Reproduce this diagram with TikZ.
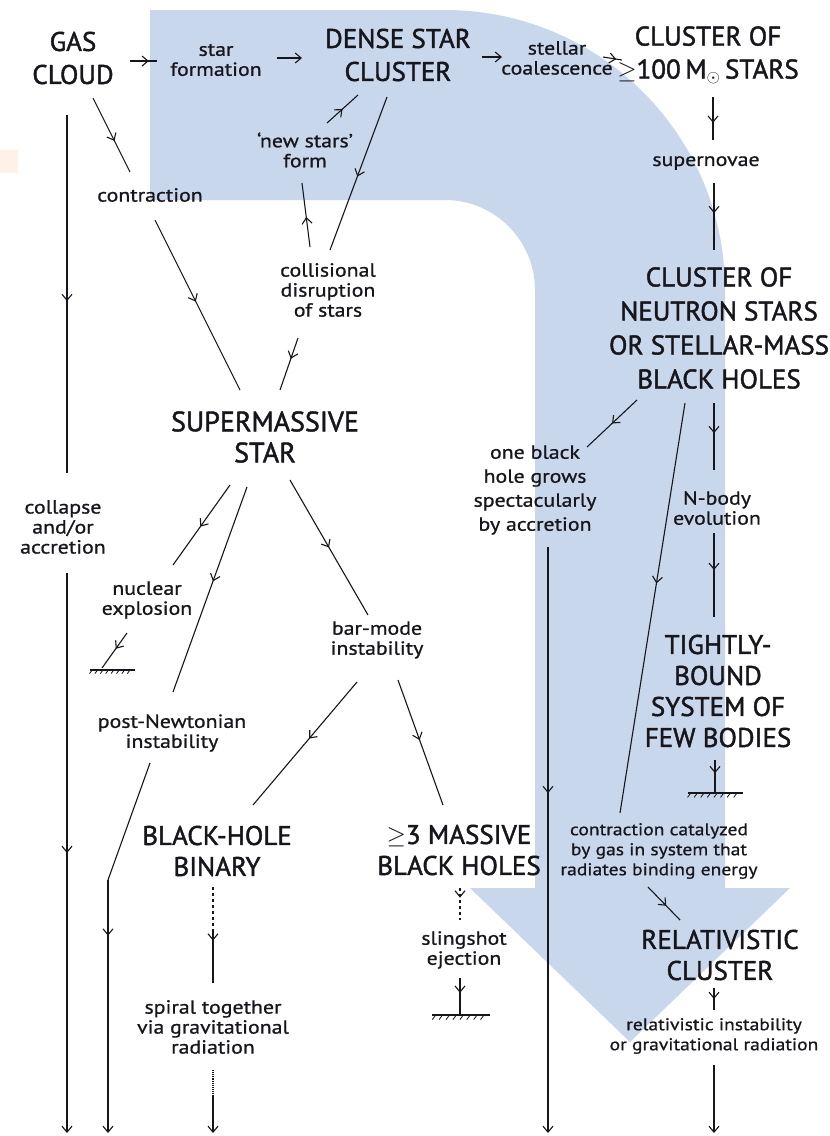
\documentclass[tikz,border=0pt]{standalone}
\usepackage{fontspec}
\setmainfont{PT Sans}
\newfontfamily\bigfont[FakeBold=1.6]{PT Sans}
\newfontfamily\labfont[FakeStretch=1.15,FakeBold=0.8]{PT Sans}
\usetikzlibrary{arrows.meta,decorations.markings}
\definecolor{bandblue}{RGB}{201,215,236}
\definecolor{ink}{RGB}{22,22,28}
\definecolor{faintorange}{RGB}{253,241,232}
\begin{document}
\begin{tikzpicture}[x=1pt,y=-1pt,
  big/.style={font=\bigfont\fontsize{27}{33}\selectfont, text=ink, align=center, inner sep=0pt},
  lab/.style={font=\labfont\fontsize{19}{20}\selectfont, text=ink, align=center, inner sep=0pt},
  smalllab/.style={font=\labfont\fontsize{17}{20}\selectfont, text=ink, align=center, inner sep=0pt},
  conn/.style={draw=ink, line width=1.1pt},
  endtip/.style={-{Straight Barb[length=6pt,width=10pt]}},
  marr/.style={postaction={decorate},decoration={markings,mark=at position #1 with {\arrow{Straight Barb[length=6pt,width=10pt]}}}},
  marr/.default=0.5,
  gnd/.pic={\draw[ink, line width=1.1pt] (-25,0) -- (25,0);
    \foreach \i in {-22,-16,...,22} \draw[ink, line width=0.8pt] (\i,0) -- (\i-3,4);}
]
\useasboundingbox (0,0) rectangle (830,1136);
\fill[white] (0,0) rectangle (830,1136);
\fill[faintorange] (0,150) rectangle (18,173);
% big blue arrow
\fill[bandblue] (150,10) -- (445,10) arc[start angle=-90, end angle=0, radius=280]
  -- (725,888) -- (790,888) -- (630,1042) -- (470,888) -- (535,888) -- (535,290)
  arc[start angle=0, end angle=-90, radius=90] -- (150,200) -- cycle;

% nodes
\node[big] (gas) at (73,58) {GAS\\CLOUD};
\node[lab] (sf) at (216,60) {star\\formation};
\node[big] (dsc) at (398,55) {DENSE STAR\\CLUSTER};
\node[lab] (sc) at (557,58) {stellar\\coalescence};
\node[big] (c100) at (708,55) {CLUSTER OF\\$\geq$100\,M$_\odot$\,STARS};
\node[lab] (sn) at (706,163) {supernovae};
\node[lab] (con) at (150,195) {contraction};
\node[lab] (nsf) at (305,150) {‘new stars’\\form};
\node[lab] (cds) at (328,290) {collisional\\disruption\\of stars};
\node[big, font=\bigfont\fontsize{28}{31}\selectfont] (sms) at (265,437) {SUPERMASSIVE\\STAR};
\node[lab] (caa) at (63,527) {collapse\\and/or\\accretion};
\node[lab] (nuc) at (147,600) {nuclear\\explosion};
\node[lab] (bmi) at (377,640) {bar-mode\\instability};
\node[lab] (pni) at (172,733) {post-Newtonian\\instability};
\node[big, font=\bigfont\fontsize{27}{31}\selectfont] (bhb) at (217,851) {BLACK-HOLE\\BINARY};
\node[big, font=\bigfont\fontsize{27}{31}\selectfont] (mbh) at (459,850) {$\geq$3 MASSIVE\\BLACK HOLES};
\node[lab] (sse) at (464,950) {slingshot\\ejection};
\node[lab] (sgr) at (213,1027) {spiral together\\via gravitational\\radiation};
\node[big, font=\bigfont\fontsize{27}{34}\selectfont] (ns) at (719,328) {CLUSTER OF\\NEUTRON STARS\\OR STELLAR-MASS\\BLACK HOLES};
\node[lab, font=\labfont\fontsize{19}{24}\selectfont] (obh) at (535,490) {one black\\hole grows\\spectacularly\\by accretion};
\node[lab] (nbe) at (717,508) {N-body\\evolution};
\node[big, font=\bigfont\fontsize{27}{31}\selectfont] (tbs) at (718,691) {TIGHTLY-\\BOUND\\SYSTEM OF\\FEW BODIES};
\node[smalllab] (ccg) at (659,851) {contraction catalyzed\\by gas in system that\\radiates binding energy};
\node[big, font=\bigfont\fontsize{27}{31}\selectfont] (rc) at (720,955) {RELATIVISTIC\\CLUSTER};
\node[smalllab] (rig) at (714,1036) {relativistic instability\\or gravitational radiation};

% connector end points
\coordinate (a1s) at (130,61); \coordinate (a1e) at (157,61);
\coordinate (a2s) at (277,58); \coordinate (a2e) at (302,58);
\coordinate (a3s) at (482,57); \coordinate (a3e) at (502,57);
\coordinate (a4s) at (603,57); \coordinate (a4e) at (622,60);
\coordinate (b1s) at (93,98);  \coordinate (b1e) at (130,172);
\coordinate (b2s) at (155,220); \coordinate (b2e) at (240,390);
\coordinate (b3s) at (67,115); \coordinate (b3e) at (67,473);
\coordinate (b4s) at (67,573); \coordinate (b4e) at (67,1133);
\coordinate (c1s) at (327,123); \coordinate (c1e) at (358,95);
\coordinate (c2s) at (310,247); \coordinate (c2e) at (302,183);
\coordinate (c3s) at (387,97); \coordinate (c3e) at (330,250);
\coordinate (c4s) at (298,338); \coordinate (c4e) at (280,390);
\coordinate (d1s) at (713,97); \coordinate (d1e) at (713,140);
\coordinate (d2s) at (714,183); \coordinate (d2e) at (714,250);
\coordinate (e1s) at (637,400); \coordinate (e1e) at (587,447);
\coordinate (e2s) at (548,547); \coordinate (e2e) at (548,1133);
\coordinate (e3s) at (685,403); \coordinate (e3e) at (620,813);
\coordinate (e4s) at (714,403); \coordinate (e4e) at (714,470);
\coordinate (e5s) at (714,533); \coordinate (e5e) at (714,617);
\coordinate (e6s) at (715,760); \coordinate (e6e) at (715,793);
\coordinate (e7s) at (648,887); \coordinate (e7e) at (680,920);
\coordinate (e8s) at (714,988); \coordinate (e8e) at (714,1010);
\coordinate (e9s) at (714,1065); \coordinate (e9e) at (714,1133);
\coordinate (f1s) at (230,485); \coordinate (f1e) at (173,565);
\coordinate (f2s) at (127,633); \coordinate (f2e) at (102,668);
\coordinate (f3s) at (247,487); \coordinate (f3e) at (173,692);
\coordinate (f4s) at (150,763); \coordinate (f4m) at (108,880); \coordinate (f4e) at (108,1133);
\coordinate (f5s) at (290,480); \coordinate (f5e) at (368,615);
\coordinate (f6s) at (357,682); \coordinate (f6e) at (253,805);
\coordinate (f7s) at (398,680); \coordinate (f7e) at (443,805);
\coordinate (f8s) at (213,887); \coordinate (f8m) at (213,930); \coordinate (f8e) at (213,983);
\coordinate (f9s) at (213,1070); \coordinate (f9m) at (213,1095); \coordinate (f9e) at (213,1133);
\coordinate (f10s) at (460,888); \coordinate (f10e) at (460,920);
\coordinate (f11s) at (460,978); \coordinate (f11e) at (460,1015);

% connectors
\draw[conn, marr=0.7] (a1s) -- (a1e);
\draw[conn, endtip] (a2s) -- (a2e);
\draw[conn, endtip] (a3s) -- (a3e);
\draw[conn, marr=0.7] (a4s) -- (a4e);
\draw[conn, marr=0.58] (b1s) -- (b1e);
\draw[conn, marr=0.48] (b2s) -- (b2e);
\draw[conn, marr=0.52] (b3s) -- (b3e);
\draw[conn, marr=0.5, endtip] (b4s) -- (b4e);
\draw[conn, marr=0.5] (c1s) -- (c1e);
\draw[conn, marr=0.47] (c2s) -- (c2e);
\draw[conn, marr=0.52] (c3s) -- (c3e);
\draw[conn, marr=0.4] (c4s) -- (c4e);
\draw[conn, marr=0.6] (d1s) -- (d1e);
\draw[conn, marr=0.45] (d2s) -- (d2e);
\draw[conn, marr=0.5] (e1s) -- (e1e);
\draw[conn, marr=0.42, endtip] (e2s) -- (e2e);
\draw[conn, marr=0.44] (e3s) -- (e3e);
\draw[conn, marr=0.45] (e4s) -- (e4e);
\draw[conn, marr=0.44] (e5s) -- (e5e);
\draw[conn, marr=0.4] (e6s) -- (e6e);
\draw[conn, marr=0.57] (e7s) -- (e7e);
\draw[conn, marr=0.5] (e8s) -- (e8e);
\draw[conn, endtip] (e9s) -- (e9e);
\draw[conn, marr=0.52] (f1s) -- (f1e);
\draw[conn, marr=0.45] (f2s) -- (f2e);
\draw[conn, marr=0.46] (f3s) -- (f3e);
\draw[conn] (f4s) -- (f4m);
\draw[conn, marr=0.22, endtip] (f4m) -- (f4e);
\draw[conn, marr=0.5] (f5s) -- (f5e);
\draw[conn, marr=0.46] (f6s) -- (f6e);
\draw[conn, marr=0.48] (f7s) -- (f7e);
\draw[conn, dashed] (f8s) -- (f8m);
\draw[conn, marr=0.2] (f8m) -- (f8e);
\draw[conn, densely dotted] (f9s) -- (f9m);
\draw[conn, endtip] (f9m) -- (f9e);
\draw[conn, dashed, marr=0.3] (f10s) -- (f10e);
\draw[conn, marr=0.4] (f11s) -- (f11e);

% ground symbols
\pic[scale=0.9] at (112,670) {gnd};
\pic[scale=1.15] at (461,1015) {gnd};
\pic[scale=1.1] at (715,793) {gnd};
\end{tikzpicture}
\end{document}
